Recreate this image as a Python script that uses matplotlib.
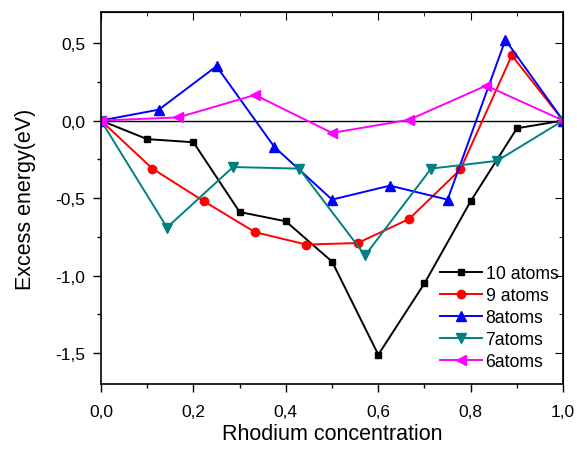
import matplotlib
matplotlib.use("Agg")
import matplotlib.pyplot as plt
from matplotlib.ticker import MultipleLocator, FuncFormatter

plt.rcParams['font.family'] = ['Liberation Sans', 'DejaVu Sans']

# excess energy (eV) vs Rh concentration for each cluster size
x10 = [0, 0.1, 0.2, 0.3, 0.4, 0.5, 0.6, 0.7, 0.8, 0.9, 1.0]
y10 = [0, -0.12, -0.14, -0.59, -0.65, -0.91, -1.51, -1.05, -0.52, -0.05, 0]

x9 = [0, 1/9, 2/9, 3/9, 4/9, 5/9, 6/9, 7/9, 8/9, 1.0]
y9 = [0, -0.31, -0.52, -0.72, -0.80, -0.79, -0.635, -0.315, 0.42, 0]

x8 = [0, 1/8, 2/8, 3/8, 4/8, 5/8, 6/8, 7/8, 1.0]
y8 = [0, 0.07, 0.35, -0.17, -0.51, -0.42, -0.51, 0.52, 0]

x7 = [0, 1/7, 2/7, 3/7, 4/7, 5/7, 6/7, 1.0]
y7 = [0, -0.69, -0.30, -0.31, -0.87, -0.31, -0.26, 0]

x6 = [0, 1/6, 2/6, 3/6, 4/6, 5/6, 1.0]
y6 = [0, 0.02, 0.165, -0.08, 0.005, 0.225, 0]

series = [
    (x10, y10, "10 atoms", "black", "s", 5),
    (x9, y9, "9 atoms", "#ff0000", "o", 6),
    (x8, y8, "8atoms", "#0000ff", "^", 7),
    (x7, y7, "7atoms", "#008080", "v", 7),
    (x6, y6, "6atoms", "#ff00ff", "<", 7),
]

fig = plt.figure(figsize=(5.77, 4.64), dpi=100)
ax = fig.add_axes([0.175, 0.170, 0.801, 0.802])

ax.axhline(0, color="black", linewidth=1.0, zorder=1)
for xs, ys, lab, col, mk, ms in series:
    ax.plot(xs, ys, color=col, marker=mk, markersize=ms, linewidth=1.4,
            label=lab, zorder=2)

ax.set_xlim(0, 1.0)
ax.set_ylim(-1.7, 0.7)
ax.xaxis.set_major_locator(MultipleLocator(0.2))
ax.xaxis.set_minor_locator(MultipleLocator(0.1))
ax.yaxis.set_major_locator(MultipleLocator(0.5))
ax.yaxis.set_minor_locator(MultipleLocator(0.25))

comma = FuncFormatter(lambda v, pos: f"{v:.1f}".replace(".", ",").replace("-0,0", "0,0"))
ax.xaxis.set_major_formatter(comma)
ax.yaxis.set_major_formatter(comma)

ax.tick_params(which="both", direction="out", top=False, right=False,
               labelsize=12.5, width=1.0)
ax.tick_params(which="major", length=5.5)
ax.tick_params(which="minor", length=3)
ax.tick_params(axis="x", which="major", pad=9)
ax.tick_params(axis="y", which="major", pad=6)

# inward ticks on the top and right edges
axt = ax.secondary_xaxis("top")
axt.xaxis.set_major_locator(MultipleLocator(0.2))
axt.xaxis.set_minor_locator(MultipleLocator(0.1))
axt.tick_params(which="both", direction="in", labeltop=False)
axt.tick_params(which="major", length=5.5)
axt.tick_params(which="minor", length=3)
axr = ax.secondary_yaxis("right")
axr.yaxis.set_major_locator(MultipleLocator(0.5))
axr.yaxis.set_minor_locator(MultipleLocator(0.25))
axr.tick_params(which="both", direction="in", labelright=False)
axr.tick_params(which="major", length=5.5)
axr.tick_params(which="minor", length=3)

for sp in ax.spines.values():
    sp.set_linewidth(1.2)

ax.set_xlabel("Rhodium concentration", fontsize=15.5, labelpad=3)
ax.set_ylabel("Excess energy(eV)", fontsize=15.5, labelpad=14)

ax.legend(loc="lower right", frameon=False, fontsize=12.7, handlelength=2.4,
          handletextpad=0.2, labelspacing=0.28, borderaxespad=0.4,
          bbox_to_anchor=(1.02, 0.0))

fig.savefig("out.png", dpi=100)
